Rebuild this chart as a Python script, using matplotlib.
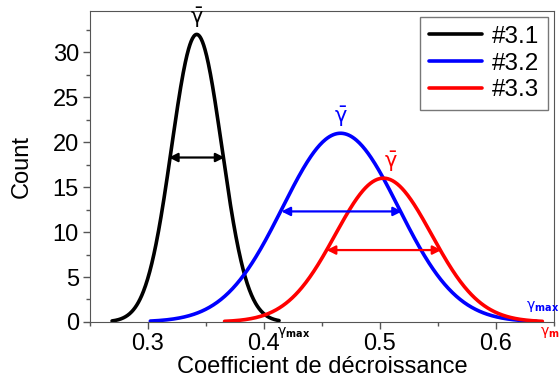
import numpy as np
import matplotlib
matplotlib.use("Agg")
import matplotlib.pyplot as plt
from matplotlib.ticker import MultipleLocator

plt.rcParams['font.family'] = ['Liberation Sans', 'DejaVu Sans']
plt.rcParams['mathtext.fontset'] = 'dejavusans'

# fitted gaussian parameters
labels = ["#3.1", "#3.2", "#3.3"]
colors = ["black", "blue", "red"]
centers = [0.342, 0.466, 0.503]
peaks = [32.0, 21.0, 16.0]
sigmas = [0.0217, 0.050, 0.0416]
x_start = [0.269, 0.302, 0.366]
x_end = [0.413, 0.635, 0.640]
# width arrows: height and x span
arrow_y = [18.3, 12.3, 8.0]
arrow_x0 = [0.318, 0.415, 0.454]
arrow_x1 = [0.366, 0.519, 0.553]

fig, ax = plt.subplots(figsize=(5.59, 3.81), dpi=100)
fig.subplots_adjust(left=0.161, right=0.991, top=0.971, bottom=0.155)

for i in range(3):
    x = np.linspace(x_start[i], x_end[i], 400)
    y = peaks[i] * np.exp(-0.5 * ((x - centers[i]) / sigmas[i]) ** 2)
    ax.plot(x, y, color=colors[i], lw=2.6, label=labels[i], solid_capstyle='round')
    ax.annotate("", xy=(arrow_x0[i], arrow_y[i]), xytext=(arrow_x1[i], arrow_y[i]),
                arrowprops=dict(arrowstyle="<|-|>", color=colors[i], lw=1.6,
                                mutation_scale=13, shrinkA=0, shrinkB=0))
    ax.text(centers[i] + (0.006 if i == 2 else 0), peaks[i] + 0.5,
            r"$\bar{\mathrm{\gamma}}$",
            color=colors[i], ha="center", va="bottom", fontsize=15)

# gamma max markers
ax.text(0.411, -0.3, r"$\mathrm{\gamma}_{\mathbf{max}}$", color="black", fontsize=10,
        ha="left", va="top")
ax.text(0.626, 0.9, r"$\mathrm{\gamma}_{\mathbf{max}}$", color="blue", fontsize=10,
        ha="left", va="bottom")
ax.text(0.638, -0.3, r"$\mathrm{\gamma}_{\mathbf{max}}$", color="red", fontsize=10,
        ha="left", va="top", clip_on=False)

ax.set_xlim(0.25, 0.65)
ax.set_ylim(0, 34.6)
ax.xaxis.set_major_locator(MultipleLocator(0.1))
ax.xaxis.set_minor_locator(MultipleLocator(0.05))
ax.yaxis.set_major_locator(MultipleLocator(5))
ax.yaxis.set_minor_locator(MultipleLocator(2.5))
ax.tick_params(which="both", direction="out", labelsize=17, width=1, color="#555555")
ax.tick_params(which="major", length=5, pad=3)
ax.tick_params(which="minor", length=3)
for s in ax.spines.values():
    s.set_color("#555555")

ax.set_xlabel("Coefficient de décroissance", fontsize=17, labelpad=1)
ax.set_ylabel("Count", fontsize=17, labelpad=14)

leg = ax.legend(loc="upper right", fontsize=17.5, fancybox=False, edgecolor="#555555",
                handlelength=2.2, borderaxespad=0.25, labelspacing=0.2,
                borderpad=0.35, handletextpad=0.4)
leg.get_frame().set_linewidth(1)

fig.savefig("out.png", dpi=100)
